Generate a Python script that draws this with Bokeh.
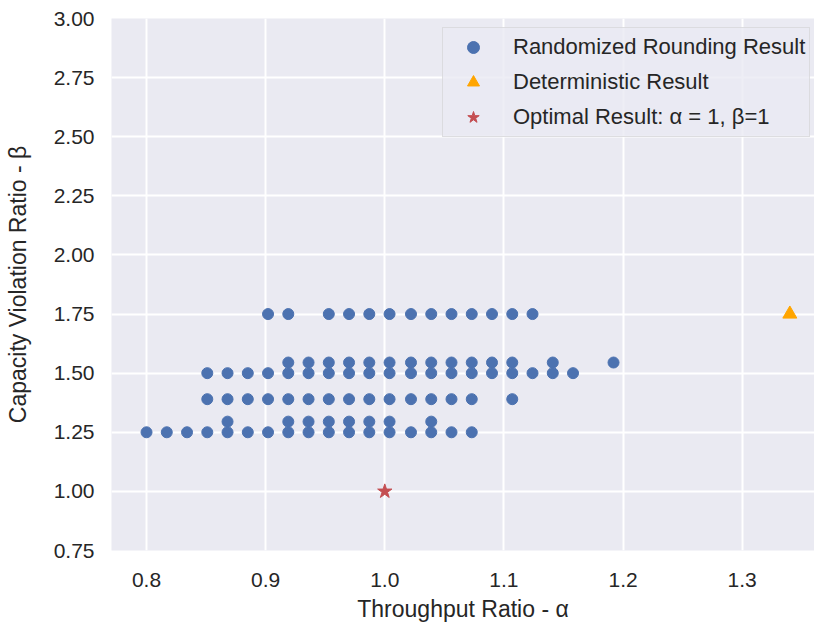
from bokeh.plotting import figure
from bokeh.models import Range1d, Legend, LegendItem, FixedTicker, NumeralTickFormatter
from bokeh.embed import file_html
from bokeh.resources import INLINE

# Randomized rounding results, one list of throughput ratios per capacity-violation level
beta_levels = [1.75, 1.545, 1.50, 1.39, 1.295, 1.25]
alpha_175 = [0.902, 0.919, 0.953, 0.970, 0.987, 1.004, 1.022, 1.039, 1.056, 1.073, 1.090, 1.107, 1.124]
alpha_1545 = [0.919, 0.936, 0.953, 0.970, 0.987, 1.004, 1.022, 1.039, 1.056, 1.073, 1.090, 1.107, 1.141, 1.192]
alpha_150 = [0.851, 0.868, 0.885, 0.902, 0.919, 0.936, 0.953, 0.970, 0.987, 1.004, 1.022, 1.039, 1.056,
             1.073, 1.090, 1.107, 1.124, 1.141, 1.158]
alpha_139 = [0.851, 0.868, 0.885, 0.902, 0.919, 0.936, 0.953, 0.970, 0.987, 1.004, 1.022, 1.039, 1.056,
             1.073, 1.107]
alpha_1295 = [0.868, 0.919, 0.936, 0.953, 0.970, 0.987, 1.004, 1.039]
alpha_125 = [0.800, 0.817, 0.834, 0.851, 0.868, 0.885, 0.902, 0.919, 0.936, 0.953, 0.970, 0.987, 1.004,
             1.022, 1.039, 1.056, 1.073]

det_alpha = [1.34]
det_beta = [1.75]
opt_alpha = [1.0]
opt_beta = [1.0]

x_ticks = [0.8, 0.9, 1.0, 1.1, 1.2, 1.3]
y_ticks = [0.75, 1.0, 1.25, 1.5, 1.75, 2.0, 2.25, 2.5, 2.75, 3.0]

rows = [alpha_175, alpha_1545, alpha_150, alpha_139, alpha_1295, alpha_125]
rand_x, rand_y = [], []
for b, row in zip(beta_levels, rows):
    rand_x += row
    rand_y += [b] * len(row)

FONT = "Liberation Sans"
TXT = "#262626"

p = figure(width=814, height=631, output_backend="svg", toolbar_location=None,
           x_range=Range1d(0.7706, 1.3607), y_range=Range1d(0.75, 3.0),
           min_border_left=111, min_border_right=0, min_border_top=18, min_border_bottom=81)
p.background_fill_color = "#EAEAF2"
p.border_fill_color = "white"
p.outline_line_color = None
p.grid.grid_line_color = "white"
p.grid.grid_line_width = 2

p.xaxis.ticker = FixedTicker(ticks=x_ticks)
p.yaxis.ticker = FixedTicker(ticks=y_ticks)
p.xaxis.formatter = NumeralTickFormatter(format="0.0")
p.yaxis.formatter = NumeralTickFormatter(format="0.00")
for ax in (p.xaxis, p.yaxis):
    ax.axis_line_color = None
    ax.major_tick_line_color = None
    ax.minor_tick_line_color = None
    ax.major_label_text_font = FONT
    ax.major_label_text_font_size = "21px"
    ax.major_label_text_color = TXT
    ax.axis_label_text_font = FONT
    ax.axis_label_text_font_size = "23px"
    ax.axis_label_text_font_style = "normal"
    ax.axis_label_text_color = TXT
p.xaxis.axis_label = "Throughput Ratio - α"
p.yaxis.axis_label = "Capacity Violation Ratio - β"
p.xaxis.major_label_standoff = 16
p.xaxis.axis_label_standoff = 6
p.yaxis.major_label_standoff = 11
p.yaxis.axis_label_standoff = 20

r1 = p.scatter(rand_x, rand_y, marker="circle", size=11, fill_color="#4C72B0", line_color="#4C72B0")
r2 = p.scatter(det_alpha, det_beta, marker="triangle", size=14, fill_color="orange", line_color="orange")
r3 = p.scatter(opt_alpha, opt_beta, marker="star", size=15, fill_color="#C44E52", line_color="#C44E52")

legend = Legend(items=[
    LegendItem(label="Randomized Rounding Result", renderers=[r1]),
    LegendItem(label="Deterministic Result", renderers=[r2]),
    LegendItem(label="Optimal Result: α = 1, β=1", renderers=[r3]),
], location=(331, 413))
legend.margin = 0
legend.padding = 4
legend.glyph_width = 52
legend.glyph_height = 30
legend.spacing = 5
legend.label_standoff = 14
legend.label_text_font = FONT
legend.label_text_font_size = "22px"
legend.label_text_color = TXT
legend.background_fill_color = "#EAEAF2"
legend.background_fill_alpha = 0.8
legend.border_line_color = "#CCCCCC"
legend.border_line_width = 1.5
p.add_layout(legend)

open("out.html", "w").write(file_html(p, INLINE))
